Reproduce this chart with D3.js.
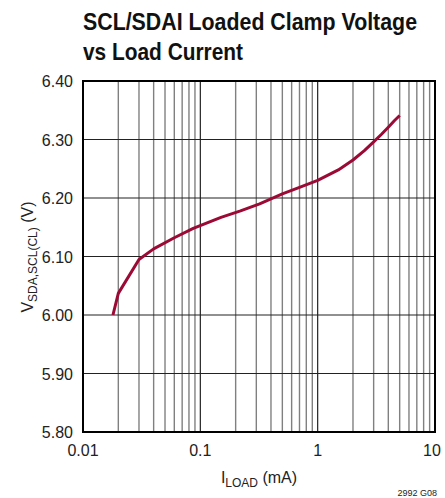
<!DOCTYPE html>
<html><head><meta charset="utf-8">
<script src="https://cdn.jsdelivr.net/npm/d3@7"></script>
<style>body{margin:0;background:#fff}svg{display:block}</style>
</head><body>
<svg id="c" width="445" height="498"></svg>
<script>
const loadCurrent = [0.018, 0.02, 0.03, 0.04, 0.06, 0.087, 0.15, 0.22, 0.32, 0.5, 0.7, 1, 1.5, 2, 2.5, 3, 3.5, 4, 4.5, 5];
const clampVoltage = [6.000, 6.037, 6.095, 6.113, 6.132, 6.148, 6.167, 6.178, 6.190, 6.207, 6.218, 6.230, 6.248, 6.265, 6.281, 6.296, 6.309, 6.321, 6.332, 6.341];
const xTicks = [0.01, 0.1, 1, 10];
const xTickLabels = ["0.01", "0.1", "1", "10"];
const yTicks = [5.8, 5.9, 6.0, 6.1, 6.2, 6.3, 6.4];
const yTickLabels = ["5.80", "5.90", "6.00", "6.10", "6.20", "6.30", "6.40"];

const svg = d3.select("#c");
const L = 83, R = 435, T = 81, B = 432;
const x = d3.scaleLog().domain([0.01, 10]).range([L, R]);
const y = d3.scaleLinear().domain([5.8, 6.4]).range([B, T]);
const font = "'Liberation Sans', Arial, sans-serif";

// title (condensed look: smaller font stretched vertically)
function titleLine(txt, yy, w) {
  const t = svg.append("text").attr("font-family", font).attr("font-weight", "bold")
    .attr("font-size", 21.5).attr("fill", "#111")
    .attr("transform", `translate(${L},${yy}) scale(1,1.12)`)
    .attr("x", 0).attr("y", 0).text(txt);
  const nat = t.node().getComputedTextLength();
  if (nat > w) t.attr("textLength", w).attr("lengthAdjust", "spacingAndGlyphs");
  else t.attr("textLength", w).attr("lengthAdjust", "spacingAndGlyphs");
}
titleLine("SCL/SDAI Loaded Clamp Voltage", 30, 334);
titleLine("vs Load Current", 60, 160);

// minor vertical grid
const minor = [];
for (let d = -2; d < 1; d++) for (let k = 2; k <= 9; k++) minor.push(k * Math.pow(10, d));
svg.append("g").selectAll("line").data(minor).join("line")
  .attr("x1", d => x(d)).attr("x2", d => x(d)).attr("y1", T).attr("y2", B)
  .attr("stroke", "#808080").attr("stroke-width", 1.4);
svg.append("g").selectAll("line").data([0.1, 1]).join("line")
  .attr("x1", d => x(d)).attr("x2", d => x(d)).attr("y1", T).attr("y2", B)
  .attr("stroke", "#222").attr("stroke-width", 1.2);
svg.append("g").selectAll("line").data(yTicks.slice(1, -1)).join("line")
  .attr("x1", L).attr("x2", R).attr("y1", d => y(d)).attr("y2", d => y(d))
  .attr("stroke", "#222").attr("stroke-width", 1.2);

// border
svg.append("rect").attr("x", L).attr("y", T).attr("width", R - L).attr("height", B - T)
  .attr("fill", "none").attr("stroke", "#000").attr("stroke-width", 2);

// tick labels
svg.append("g").selectAll("text").data(yTicks).join("text")
  .attr("x", 73).attr("y", d => y(d) + 6).attr("text-anchor", "end")
  .attr("font-family", font).attr("font-size", 16).attr("fill", "#222")
  .text((d, i) => yTickLabels[i]);
svg.append("g").selectAll("text").data(xTicks).join("text")
  .attr("x", (d, i) => i === 3 ? x(d) - 3 : x(d)).attr("y", 456).attr("text-anchor", "middle")
  .attr("font-family", font).attr("font-size", 16).attr("fill", "#222")
  .text((d, i) => xTickLabels[i]);

// axis titles
const xl = svg.append("text").attr("x", 259).attr("y", 483).attr("text-anchor", "middle")
  .attr("font-family", font).attr("font-size", 16).attr("fill", "#222");
xl.append("tspan").text("I");
xl.append("tspan").attr("font-size", 12).attr("dy", 4).text("LOAD");
xl.append("tspan").attr("dy", -4).text(" (mA)");

const yl = svg.append("text").attr("transform", "translate(33,257) rotate(-90)").attr("text-anchor", "middle")
  .attr("font-family", font).attr("font-size", 16).attr("fill", "#222");
yl.append("tspan").text("V");
yl.append("tspan").attr("font-size", 12).attr("dy", 4).text("SDA,SCL(CL)");
yl.append("tspan").attr("dy", -4).text(" (V)");

svg.append("text").attr("x", 437).attr("y", 496).attr("text-anchor", "end")
  .attr("font-family", font).attr("font-size", 9).attr("fill", "#222").text("2992 G08");

// curve
const line = d3.line().x(d => x(d[0])).y(d => y(d[1])).curve(d3.curveLinear);
svg.append("path").datum(loadCurrent.map((c, i) => [c, clampVoltage[i]]))
  .attr("d", line).attr("fill", "none").attr("stroke", "#9b0a35").attr("stroke-width", 3)
  .attr("stroke-linejoin", "round").attr("stroke-linecap", "butt");
</script>
</body></html>
